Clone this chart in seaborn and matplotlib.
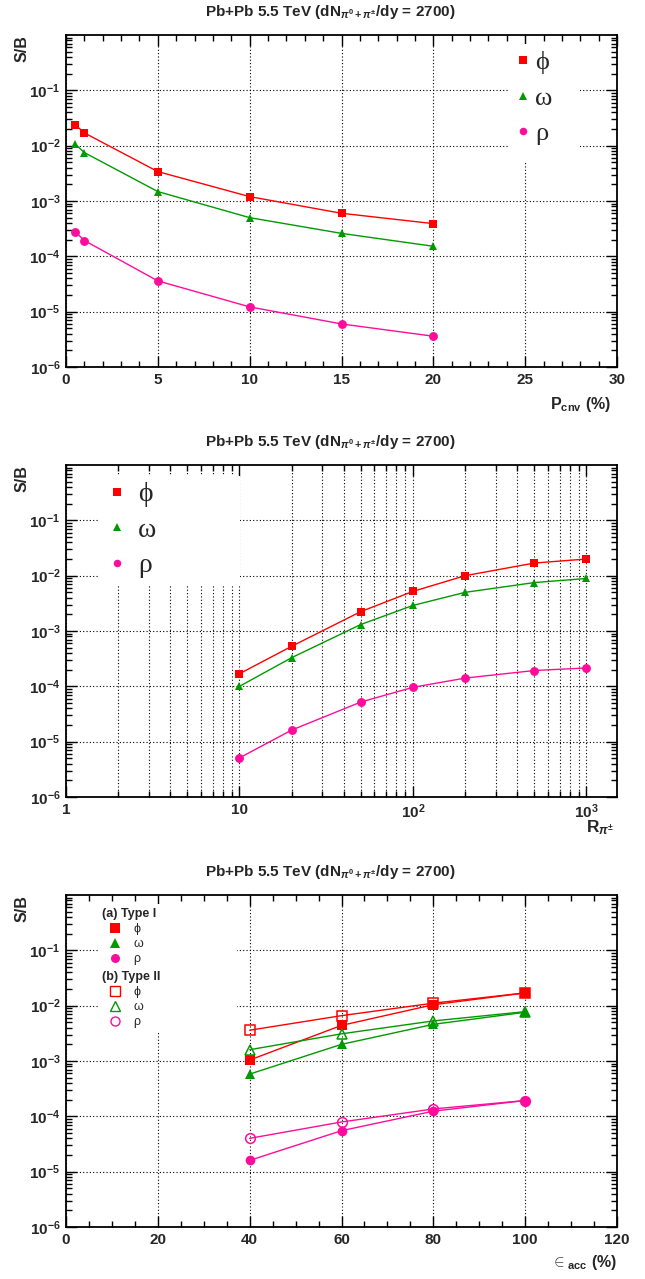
import numpy as np
import pandas as pd
import matplotlib
matplotlib.use("Agg")
import matplotlib.pyplot as plt
import seaborn as sns
from matplotlib.lines import Line2D
from matplotlib.patches import Rectangle
from matplotlib.ticker import (FixedLocator, LogLocator, FuncFormatter,
                               NullFormatter, MultipleLocator, FixedFormatter)

# ---------------- data ----------------
pcnv = [0.5, 1, 5, 10, 15, 20]
pcnv_phi = [2.4e-2, 1.7e-2, 3.4e-3, 1.2e-3, 6.0e-4, 3.9e-4]
pcnv_omega = [1.07e-2, 7.5e-3, 1.48e-3, 5.0e-4, 2.6e-4, 1.52e-4]
pcnv_rho = [2.8e-4, 1.93e-4, 3.6e-5, 1.22e-5, 6.0e-6, 3.6e-6]

rpi = [10, 20, 50, 100, 200, 500, 1000]
rpi_phi = [1.69e-4, 5.3e-4, 2.24e-3, 5.2e-3, 1.0e-2, 1.69e-2, 2.0e-2]
rpi_omega = [1.0e-4, 3.3e-4, 1.31e-3, 2.9e-3, 5.0e-3, 7.5e-3, 8.9e-3]
rpi_rho = [5.1e-6, 1.62e-5, 5.2e-5, 9.6e-5, 1.41e-4, 1.93e-4, 2.15e-4]

eacc = [40, 60, 80, 100]
eacc_phi_I = [1.04e-3, 4.4e-3, 1.04e-2, 1.7e-2]
eacc_omega_I = [5.8e-4, 2.0e-3, 4.6e-3, 7.6e-3]
eacc_rho_I = [1.6e-5, 5.5e-5, 1.24e-4, 1.93e-4]
eacc_phi_II = [3.6e-3, 6.6e-3, 1.11e-2, 1.7e-2]
eacc_omega_II = [1.6e-3, 3.1e-3, 5.3e-3, 7.8e-3]
eacc_rho_II = [4.0e-5, 7.9e-5, 1.36e-4, 1.93e-4]

species = ["ϕ", "ω", "ρ"]
type_titles = ["(a) Type I", "(b) Type II"]
title_text = r"Pb+Pb 5.5 TeV (dN$_{\pi^{0}+\pi^{\pm}}$/dy = 2700)"
ylabel_text = "S/B"
xlabels = [r"P$_{\mathregular{cnv}}$ (%)", r"R$_{\pi^{\pm}}$", r"$\in_{\mathregular{acc}}$ (%)"]
ytick_vals = [1e-6, 1e-5, 1e-4, 1e-3, 1e-2, 1e-1]
x2_tick_vals = [1, 10, 100, 1000]
x2_tick_labels = ["1", "10", r"$10^{2}$", r"$10^{3}$"]

# ---------------- style ----------------
sns.set_style("ticks")
plt.rcParams["font.family"] = ["Liberation Sans", "DejaVu Sans"]
plt.rcParams["font.weight"] = "bold"
plt.rcParams["mathtext.fontset"] = "custom"
plt.rcParams["mathtext.rm"] = "Liberation Sans:bold"
plt.rcParams["mathtext.bf"] = "Liberation Sans:bold"
plt.rcParams["mathtext.it"] = "Liberation Sans:italic:bold"
plt.rcParams["mathtext.sf"] = "Liberation Sans:bold"
plt.rcParams["axes.axisbelow"] = True

RED = "#ff0000"
GREEN = "#009a00"
PINK = "#ff0c9c"
colors = [RED, GREEN, PINK]
markers = ["s", "^", "o"]
msizes = [6.0, 6.2, 6.4]

W, H = 645, 1279
fig = plt.figure(figsize=(W / 100, H / 100), dpi=100)

L, R = 66, 617
panels_px = [(35, 367), (465, 797), (895, 1227)]
axes = []
for top, bot in panels_px:
    ax = fig.add_axes([L / W, 1 - bot / H, (R - L) / W, (bot - top) / H])
    axes.append(ax)


def px_box(ax_i, x0, x1, y0, y1):
    top, bot = panels_px[ax_i]
    return ((x0 - L) / (R - L), (bot - y1) / (bot - top),
            (x1 - x0) / (R - L), (y1 - y0) / (bot - top))


def px_anchor(ax_i, x, y):
    top, bot = panels_px[ax_i]
    return ((x - L) / (R - L), (bot - y) / (bot - top))


def white_box(ax, ax_i, x0, x1, y0, y1):
    bx = px_box(ax_i, x0, x1, y0, y1)
    ax.add_patch(Rectangle(bx[:2], bx[2], bx[3], transform=ax.transAxes,
                           facecolor="white", edgecolor="none", zorder=1))


def draw(ax, x, y, color, marker, ms, filled=True):
    df = pd.DataFrame({"x": x, "y": y})
    sns.lineplot(data=df, x="x", y="y", ax=ax, color=color, linewidth=1.0,
                 marker=marker, markersize=ms,
                 markerfacecolor=color if filled else "none",
                 markeredgecolor=color,
                 markeredgewidth=0 if filled else 1.1,
                 sort=False, estimator=None, zorder=3)


def style_axis(ax, xminor_grid=False):
    ax.set_yscale("log")
    ax.set_ylim(1e-6, 1)
    ax.yaxis.set_major_locator(FixedLocator(ytick_vals))
    ax.yaxis.set_major_formatter(
        FuncFormatter(lambda v, p: r"$10^{%d}$" % int(round(np.log10(v)))))
    ax.yaxis.set_minor_locator(LogLocator(base=10, subs=np.arange(2, 10), numticks=30))
    ax.yaxis.set_minor_formatter(NullFormatter())
    ax.set_xlabel("")
    ax.set_ylabel("")
    for s in ax.spines.values():
        s.set_linewidth(1.3)
        s.set_color("black")
        s.set_visible(True)
    ax.tick_params(which="both", direction="in", top=True, right=True,
                   color="black", width=1.0)
    ax.tick_params(which="major", length=8, labelsize=11, pad=4)
    ax.tick_params(which="minor", length=4.5)
    gkw = dict(linestyle=(0, (1, 2)), color="black", linewidth=0.8)
    ax.grid(True, which="major", axis="both", **gkw)
    if xminor_grid:
        ax.grid(True, which="minor", axis="x", **gkw)


# ---------------- panel 1 ----------------
ax = axes[0]
for yv, c, m, ms in zip([pcnv_phi, pcnv_omega, pcnv_rho], colors, markers, msizes):
    draw(ax, pcnv, yv, c, m, ms)
style_axis(ax)
ax.set_xlim(0, 30)
ax.xaxis.set_major_locator(MultipleLocator(5))
ax.xaxis.set_minor_locator(MultipleLocator(1))
white_box(ax, 0, 508, 580, 44, 162)
h1 = [Line2D([], [], ls="none", marker=m, color=c, markersize=ms * 0.85, markeredgewidth=0)
      for m, c, ms in zip(markers, colors, msizes)]
ax.legend(h1, species, loc="upper left", bbox_to_anchor=px_anchor(0, 515, 51),
          frameon=False, borderpad=0, borderaxespad=0, handlelength=0.6,
          handletextpad=0.15, labelspacing=0.45,
          prop=dict(family=["Liberation Serif", "DejaVu Serif"], size=19, weight="normal"))

# ---------------- panel 2 ----------------
ax = axes[1]
for yv, c, m, ms in zip([rpi_phi, rpi_omega, rpi_rho], colors, markers, msizes):
    draw(ax, rpi, yv, c, m, ms)
style_axis(ax, xminor_grid=True)
ax.set_xscale("log")
ax.set_xlim(1, 1500)
ax.xaxis.set_major_locator(FixedLocator(x2_tick_vals))
ax.xaxis.set_major_formatter(FixedFormatter(x2_tick_labels))
ax.xaxis.set_minor_locator(LogLocator(base=10, subs=np.arange(2, 10), numticks=30))
ax.xaxis.set_minor_formatter(NullFormatter())
white_box(ax, 1, 99, 240, 476, 585)
h2 = [Line2D([], [], ls="none", marker=m, color=c, markersize=ms * 0.85, markeredgewidth=0)
      for m, c, ms in zip(markers, colors, msizes)]
ax.legend(h2, species, loc="upper left", bbox_to_anchor=px_anchor(1, 109, 482),
          frameon=False, borderpad=0, borderaxespad=0, handlelength=0.6,
          handletextpad=0.45, labelspacing=0.36,
          prop=dict(family=["Liberation Serif", "DejaVu Serif"], size=20, weight="normal"))

# ---------------- panel 3 ----------------
ax = axes[2]
for yv, c, m, ms in zip([eacc_phi_I, eacc_omega_I, eacc_rho_I], colors, markers, msizes):
    draw(ax, eacc, yv, c, m, ms + 0.6)
for yv, c, m, ms in zip([eacc_phi_II, eacc_omega_II, eacc_rho_II], colors, markers, msizes):
    draw(ax, eacc, yv, c, m, ms + 0.6, filled=False)
style_axis(ax)
ax.set_xlim(0, 120)
ax.xaxis.set_major_locator(MultipleLocator(20))
ax.xaxis.set_minor_locator(MultipleLocator(5))
white_box(ax, 2, 98, 237, 904, 1032)
leg_prop = dict(family=["Liberation Sans", "DejaVu Sans"], size=9, weight="normal")
title_prop = dict(family="Liberation Sans", size=9, weight="bold")
hI = [Line2D([], [], ls="none", marker=m, color=c, markersize=6.5, markeredgewidth=0)
      for m, c in zip(markers, colors)]
hII = [Line2D([], [], ls="none", marker=m, color=c, markersize=6.5, markeredgewidth=1.0,
              markerfacecolor="none", markeredgecolor=c)
       for m, c in zip(markers, colors)]
legI = ax.legend(hI, species, loc="upper left", title=type_titles[0],
                 bbox_to_anchor=px_anchor(2, 102, 908),
                 frameon=False, borderpad=0, borderaxespad=0, handlelength=2.0,
                 handletextpad=0.5, labelspacing=0.25, prop=leg_prop,
                 title_fontproperties=title_prop, alignment="left")
ax.add_artist(legI)
ax.legend(hII, species, loc="upper left", title=type_titles[1],
          bbox_to_anchor=px_anchor(2, 102, 971),
          frameon=False, borderpad=0, borderaxespad=0, handlelength=2.0,
          handletextpad=0.5, labelspacing=0.25, prop=leg_prop,
          title_fontproperties=title_prop, alignment="left")

# ---------------- texts ----------------
for (top, bot) in panels_px:
    fig.text(330 / W, 1 - (top - 23) / H, title_text, ha="center", va="center",
             fontsize=11, fontweight="bold")
    fig.text(22 / W, 1 - top / H, ylabel_text, rotation=90, ha="center", va="top",
             fontsize=11.5, fontweight="bold")

fig.text(611 / W, 1 - 405 / H, xlabels[0], ha="right", va="center", fontsize=11.5,
         fontweight="bold")
fig.text(586 / W, 1 - 828 / H, xlabels[1], ha="left", va="center", fontsize=12.5,
         fontweight="bold")
fig.text(617 / W, 1 - 1262 / H, xlabels[2], ha="right", va="center", fontsize=11.5,
         fontweight="bold")

fig.savefig("out.png", dpi=100)
